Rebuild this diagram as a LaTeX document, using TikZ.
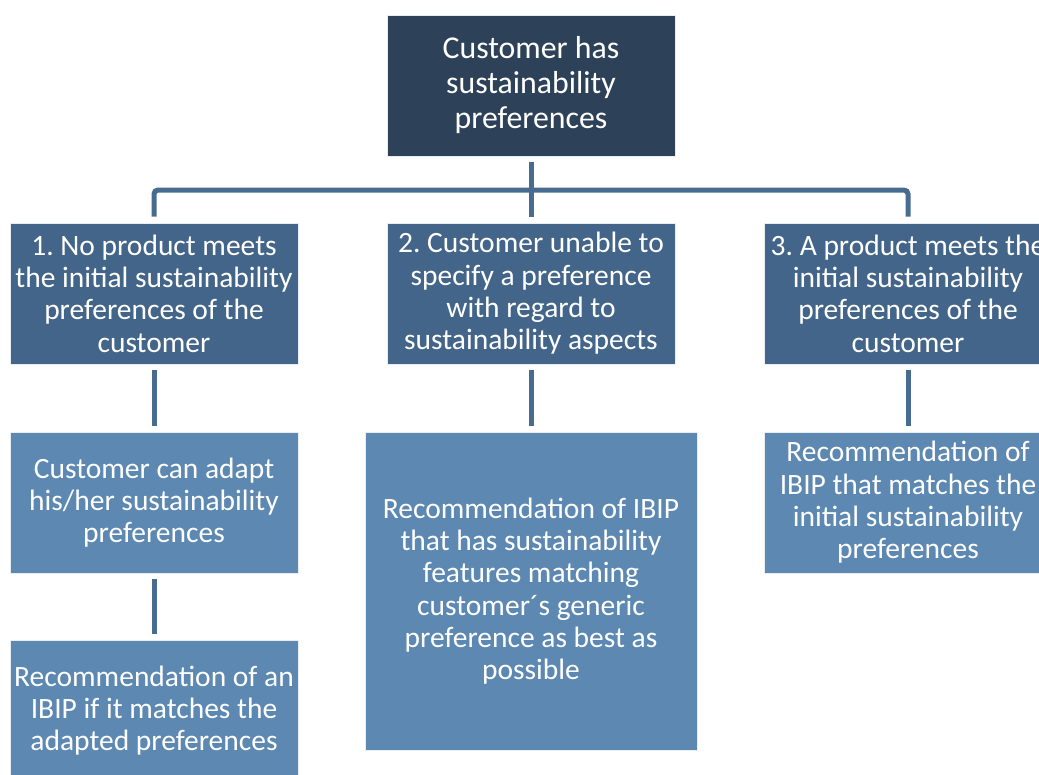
\documentclass[tikz,border=0pt]{standalone}
\usepackage{fontspec}
\setmainfont{Carlito}
\frenchspacing
\definecolor{topblue}{RGB}{45,66,89}
\definecolor{midblue}{RGB}{67,101,137}
\definecolor{lowblue}{RGB}{92,136,178}
\definecolor{linkblue}{RGB}{72,108,145}
\begin{document}
\begin{tikzpicture}[x=1pt,y=-1pt,
  box/.style={draw=white!85!lowblue,line width=0.8pt,text=white,align=center,
    inner sep=0pt,minimum width=288pt,minimum height=141pt},
  rootbox/.style={box,fill=topblue,font=\fontsize{31.8}{35}\selectfont},
  casebox/.style={box,fill=midblue,font=\fontsize{29.5}{32.3}\selectfont},
  resultbox/.style={box,fill=lowblue,font=\fontsize{29.5}{32.3}\selectfont},
  link/.style={draw=linkblue,line width=5pt}]
\useasboundingbox (0,0) rectangle (1039,774);
\begin{scope}
\clip (0,0) rectangle (1039,774);
% root
\node[rootbox] (root) at (531,85.5) {Customer has\\sustainability\\preferences};
% three cases
\node[casebox] (c1) at (154,293.5) {1. No product meets\\the initial sustainability\\preferences of the\\customer};
\node[casebox] (c2) at (531,293.5) {2. Customer unable to\\specify a preference\\with regard to\\sustainability aspects};
\node[casebox] (c3) at (908,293.5) {3. A product meets the\\initial sustainability\\preferences of the\\customer};
% outcomes
\node[resultbox] (r1) at (154,502.5) {Customer can adapt\\his/her sustainability\\preferences};
\node[resultbox,minimum width=332pt,minimum height=318pt] (r2) at (531,591) {Recommendation of IBIP\\that has sustainability\\features matching\\customer´s generic\\preference as best as\\possible};
\node[resultbox] (r3) at (908,502.5) {Recommendation of\\IBIP that matches the\\initial sustainability\\preferences};
\node[resultbox] (r4) at (154,710.5) {Recommendation of an\\IBIP if it matches the\\adapted preferences};
% branching bar below the root
\coordinate (bar) at (531,190);
\draw[link] ([yshift=-6pt]root.south) -- ([yshift=6pt]c2.north);
\draw[link,rounded corners=4pt] ([yshift=6pt]c1.north) -- (c1.north |- bar) -- (c3.north |- bar) -- ([yshift=6pt]c3.north);
% vertical links
\draw[link] ([yshift=-6pt]c1.south) -- ([yshift=6pt]r1.north);
\draw[link] ([yshift=-6pt]c2.south) -- ([yshift=6pt]r2.north);
\draw[link] ([yshift=-6pt]c3.south) -- ([yshift=6pt]r3.north);
\draw[link] ([yshift=-6pt]r1.south) -- ([yshift=6pt]r4.north);
\end{scope}
\end{tikzpicture}
\end{document}
